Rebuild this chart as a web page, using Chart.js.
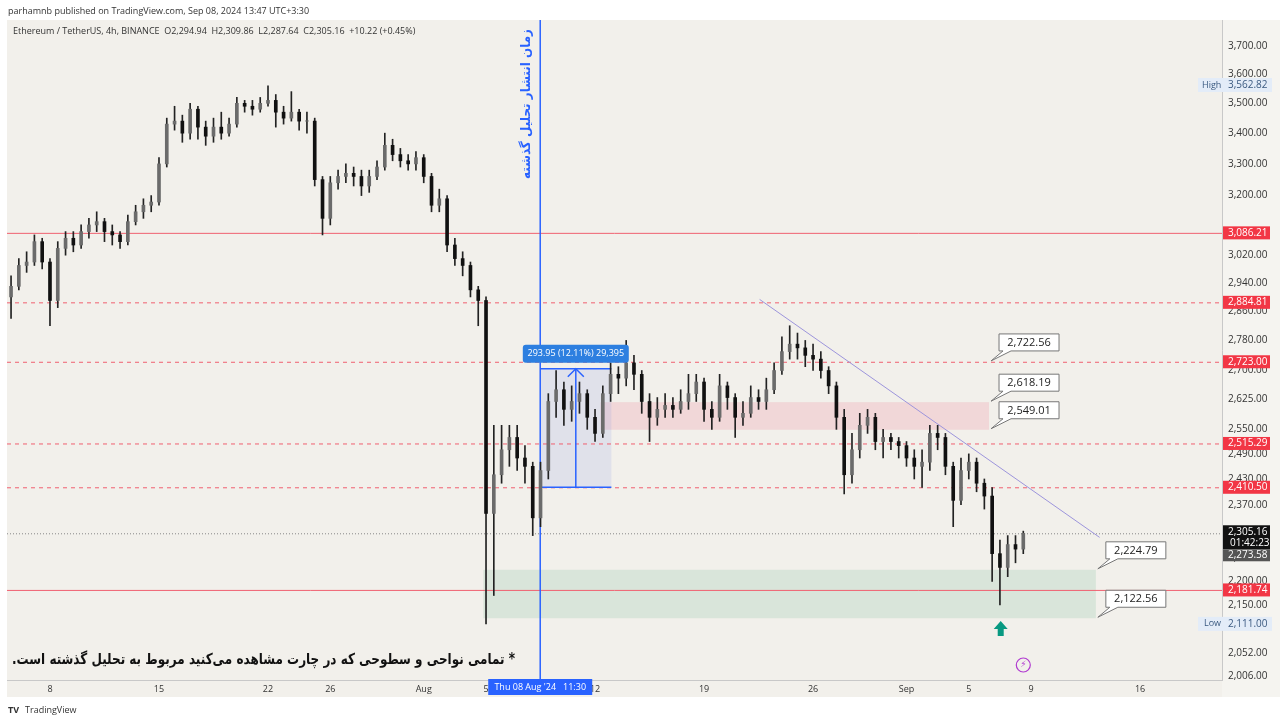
<!DOCTYPE html>
<html><head><meta charset="utf-8">
<script src="https://cdn.jsdelivr.net/npm/chart.js@4.4.1/dist/chart.umd.min.js"></script>
<style>html,body{margin:0;padding:0;background:#fff}canvas{display:block}</style>
</head><body>
<canvas id="c" width="1280" height="723"></canvas>
<script>
// ---- data (12h candles, ETH/USDT, time in days from Jul 0) ----
const firstTime = 5.5, step = 0.5, firstOpen = 2900;
const closes = [2930,2990,3000,3060,3000,2890,3040,3070,3050,3090,3110,3120,3090,3080,3060,3120,3150,3170,3180,3300,
3430,3440,3400,3480,3420,3390,3420,3400,3430,3500,3490,3480,3500,3510,3470,3450,3470,3440,3440,3250,
3130,3240,3260,3270,3260,3230,3260,3290,3360,3330,3310,3300,3320,3260,3170,3190,3050,3010,2990,2920,
2890,2350,2440,2500,2530,2480,2460,2340,2450,2620,2650,2600,2620,2640,2580,2540,2640,2690,2680,2720,
2690,2620,2580,2600,2610,2600,2620,2640,2670,2600,2580,2660,2630,2580,2590,2630,2620,2650,2700,2750,
2770,2760,2740,2730,2700,2660,2580,2440,2500,2560,2580,2520,2530,2520,2510,2480,2460,2470,2540,2530,
2460,2380,2450,2470,2420,2390,2260,2230,2280,2270,2305];
const highs = [2960,3010,3030,3080,3070,3010,3060,3090,3090,3110,3130,3150,3130,3110,3090,3140,3170,3190,3200,3320,
3450,3490,3460,3500,3490,3440,3450,3470,3450,3520,3510,3510,3520,3560,3530,3490,3540,3480,3470,3450,
3260,3260,3280,3300,3290,3280,3280,3310,3400,3380,3350,3330,3340,3330,3270,3220,3200,3070,3030,3000,
2930,2900,2560,2560,2560,2560,2510,2470,2470,2640,2700,2670,2660,2670,2650,2600,2660,2720,2710,2780,
2740,2700,2640,2630,2640,2630,2650,2690,2690,2680,2620,2690,2670,2640,2620,2660,2650,2680,2720,2790,
2820,2800,2780,2770,2750,2710,2670,2600,2540,2590,2600,2590,2550,2540,2530,2520,2500,2500,2560,2560,
2540,2470,2480,2490,2480,2430,2410,2290,2300,2300,2310];
const lows = [2840,2920,2970,2990,2980,2820,2870,3020,3030,3040,3070,3090,3060,3050,3040,3050,3110,3130,3150,3170,
3290,3410,3370,3380,3380,3360,3370,3380,3390,3420,3470,3460,3470,3490,3420,3430,3440,3410,3400,3230,
3080,3110,3220,3240,3230,3200,3210,3250,3280,3310,3290,3280,3280,3240,3150,3150,3030,2990,2960,2900,
2820,2111,2170,2420,2460,2450,2420,2300,2320,2430,2580,2560,2570,2590,2550,2520,2530,2620,2640,2660,
2650,2590,2520,2560,2580,2580,2590,2600,2620,2570,2550,2570,2600,2530,2560,2580,2600,2600,2640,2690,
2730,2730,2710,2700,2680,2640,2550,2395,2420,2480,2540,2500,2480,2500,2480,2460,2430,2410,2450,2500,
2440,2320,2370,2430,2400,2360,2200,2150,2210,2240,2260];
const yTicks = [3700,3600,3500,3400,3300,3200,3020,2940,2860,2780,2700,2625,2550,2490,2430,2370,2250,2200,2150,2052,2006];
const xTickDays = [8,15,22,26,32,36,43,50,57,63,67,71,78];
const xTickLabels = ['8','15','22','26','Aug','5','12','19','26','Sep','5','9','16'];
const solidLevels = [3086.21, 2181.74];
const dashedLevels = [2884.81, 2723.00, 2515.29, 2410.50];
const lastPrice = 2305.16, prevPrice = 2273.58, highPrice = 3562.82, lowPrice = 2111.00;
const pinkZone = [43.35, 68.3, 2549.01, 2618.19];
const greenZone = [35.83, 75.16, 2122.56, 2224.79];
const measureBox = [39.48, 44.05, 2410.5, 2704.45];
const trendLine = [[53.57, 2893], [75.4, 2296]];
const publishTime = 39.48;
const callouts = [[2722.56, 2722.56, 68.3], [2618.19, 2618.19, 68.3], [2549.01, 2549.01, 68.3], [2224.79, 2224.79, 75.16], [2122.56, 2122.56, 75.16]];

// ---- build candles ----
const wick = [], body = [], bodyCol = [];
let prev = firstOpen;
closes.forEach((c, i) => {
  const t = firstTime + i * step;
  wick.push({x: t, y: [lows[i], highs[i]]});
  body.push({x: t, y: [prev, c === prev ? c + 1 : c]});
  bodyCol.push(c >= prev ? '#6b6b6b' : '#111111');
  prev = c;
});

const fmt = v => v.toLocaleString('en-US', {minimumFractionDigits: 2, maximumFractionDigits: 2});

const overlay = {
  id: 'overlay',
  beforeDraw(ch) {
    const g = ch.ctx;
    g.save();
    g.fillStyle = '#ffffff'; g.fillRect(0, 0, 1280, 723);
    g.fillStyle = '#f2f0eb'; g.fillRect(7, 20, 1273, 677);
    g.fillStyle = '#f5f4f0'; g.fillRect(1222, 20, 58, 677);
    g.fillStyle = '#333'; g.font = '9px "Open Sans", sans-serif'; g.textBaseline = 'middle';
    g.fillText('parhamnb published on TradingView.com, Sep 08, 2024 13:47 UTC+3:30', 8, 11);
    g.fillText('Ethereum / TetherUS, 4h, BINANCE  O2,294.94  H2,309.86  L2,287.64  C2,305.16  +10.22 (+0.45%)', 13, 31);
    g.font = 'bold 9px "Open Sans", sans-serif';
    g.fillText('TV', 8, 710);
    g.font = '9px "Open Sans", sans-serif';
    g.fillText('TradingView', 25, 710);
    g.restore();
  },
  beforeDatasetsDraw(ch) {
    const g = ch.ctx, x = ch.scales.x, y = ch.scales.y, a = ch.chartArea;
    const X = v => x.getPixelForValue(v), Y = v => y.getPixelForValue(v);
    g.save();
    g.beginPath(); g.rect(a.left, a.top, a.right - a.left, a.bottom - a.top); g.clip();
    g.fillStyle = 'rgba(242,170,180,0.35)';
    g.fillRect(X(pinkZone[0]), Y(pinkZone[3]), X(pinkZone[1]) - X(pinkZone[0]), Y(pinkZone[2]) - Y(pinkZone[3]));
    g.fillStyle = 'rgba(160,205,180,0.3)';
    g.fillRect(X(greenZone[0]), Y(greenZone[3]), X(greenZone[1]) - X(greenZone[0]), Y(greenZone[2]) - Y(greenZone[3]));
    g.fillStyle = 'rgba(120,140,230,0.15)';
    g.fillRect(X(measureBox[0]), Y(measureBox[3]), X(measureBox[1]) - X(measureBox[0]), Y(measureBox[2]) - Y(measureBox[3]));
    g.strokeStyle = '#f06070'; g.lineWidth = 1;
    solidLevels.forEach(p => { g.beginPath(); g.moveTo(a.left, Y(p) + .5); g.lineTo(a.right, Y(p) + .5); g.stroke(); });
    g.setLineDash([4, 4]);
    dashedLevels.forEach(p => { g.beginPath(); g.moveTo(a.left, Y(p) + .5); g.lineTo(a.right, Y(p) + .5); g.stroke(); });
    g.strokeStyle = '#888'; g.setLineDash([1, 2]);
    g.beginPath(); g.moveTo(a.left, Y(lastPrice) + .5); g.lineTo(a.right, Y(lastPrice) + .5); g.stroke();
    g.setLineDash([]);
    g.strokeStyle = '#2962ff'; g.lineWidth = 1.5;
    const mx0 = X(measureBox[0]), mx1 = X(measureBox[1]), mxc = (mx0 + mx1) / 2;
    [measureBox[2], measureBox[3]].forEach(p => { g.beginPath(); g.moveTo(mx0, Y(p)); g.lineTo(mx1, Y(p)); g.stroke(); });
    g.beginPath(); g.moveTo(mxc, Y(measureBox[2])); g.lineTo(mxc, Y(measureBox[3])); g.stroke();
    g.beginPath(); g.moveTo(mxc - 8, Y(measureBox[3]) + 8); g.lineTo(mxc, Y(measureBox[3])); g.lineTo(mxc + 8, Y(measureBox[3]) + 8); g.stroke();
    g.strokeStyle = '#9d95dc'; g.lineWidth = 1;
    g.beginPath(); g.moveTo(X(trendLine[0][0]), Y(trendLine[0][1])); g.lineTo(X(trendLine[1][0]), Y(trendLine[1][1])); g.stroke();
    g.strokeStyle = '#2962ff'; g.lineWidth = 1.5;
    g.beginPath(); g.moveTo(X(publishTime), 20); g.lineTo(X(publishTime), 697); g.stroke();
    g.restore();
  },
  afterDraw(ch) {
    const g = ch.ctx, x = ch.scales.x, y = ch.scales.y;
    const X = v => x.getPixelForValue(v), Y = v => y.getPixelForValue(v);
    g.save();
    // publish line vertical text
    g.save();
    g.translate(X(publishTime) - 14, 104);
    g.rotate(-Math.PI / 2);
    g.fillStyle = '#2962ff'; g.font = 'bold 13px "DejaVu Sans", sans-serif';
    g.textAlign = 'center'; g.textBaseline = 'middle'; g.direction = 'rtl';
    const vt = 'زمان انتشار تحلیل گذشته';
    const vw = g.measureText(vt).width;
    g.scale(150 / vw, 1);
    g.fillText(vt, 0, 0);
    g.restore();
    // measure label
    const mx0 = X(measureBox[0]), mx1 = X(measureBox[1]), mxc = (mx0 + mx1) / 2;
    g.fillStyle = '#2d7fe0';
    g.beginPath(); g.roundRect(mxc - 53, Y(measureBox[3]) - 24, 106, 18, 3); g.fill();
    g.fillStyle = '#fff'; g.font = '9px "Open Sans", sans-serif'; g.textAlign = 'center'; g.textBaseline = 'middle';
    g.fillText('293.95 (12.11%) 29,395', mxc, Y(measureBox[3]) - 15);
    // callouts
    callouts.forEach(([label, p, t]) => {
      const px = X(t) + 2, py = Y(p);
      const bx = px + 8, by = py - 28;
      g.fillStyle = '#fff'; g.strokeStyle = '#777'; g.lineWidth = 1;
      g.beginPath();
      g.moveTo(bx, by); g.lineTo(bx + 60, by); g.lineTo(bx + 60, by + 17); g.lineTo(bx + 12, by + 17);
      g.lineTo(px, py - 1); g.lineTo(bx + 4, by + 17); g.lineTo(bx, by + 17); g.closePath();
      g.fill(); g.stroke();
      g.fillStyle = '#222'; g.font = '11px "Open Sans", sans-serif'; g.textAlign = 'center';
      g.fillText(fmt(label), bx + 30, by + 9);
    });
    // green arrow
    const ax = X(69.05), ay = 629;
    g.fillStyle = '#089981';
    g.beginPath(); g.moveTo(ax, ay - 8); g.lineTo(ax + 7, ay); g.lineTo(ax + 3, ay); g.lineTo(ax + 3, ay + 7);
    g.lineTo(ax - 3, ay + 7); g.lineTo(ax - 3, ay); g.lineTo(ax - 7, ay); g.closePath(); g.fill();
    // lightning icon
    g.strokeStyle = '#b03ad0'; g.lineWidth = 1.2;
    g.beginPath(); g.arc(X(70.5), 665, 7, 0, Math.PI * 2); g.stroke();
    g.fillStyle = '#b03ad0'; g.font = '9px "DejaVu Sans", sans-serif'; g.textAlign = 'center';
    g.fillText('⚡', X(70.5), 665);
    // persian note
    g.save();
    g.fillStyle = '#111'; g.font = 'bold 15px "DejaVu Sans", sans-serif'; g.direction = 'rtl'; g.textAlign = 'right';
    const nt = '* تمامی نواحی و سطوحی که در چارت مشاهده می‌کنید مربوط به تحلیل گذشته است.';
    const nw = g.measureText(nt).width;
    g.translate(515, 660);
    g.scale(503 / nw, 1);
    g.fillText(nt, 0, 0);
    g.restore();
    // right axis tags
    const tag = (p, text, bg, fg, h) => {
      const ty = Y(p);
      g.fillStyle = bg; g.fillRect(1223, ty - h / 2, 47, h);
      g.fillStyle = fg; g.font = '10px "Open Sans", sans-serif'; g.textAlign = 'left'; g.textBaseline = 'middle';
      g.fillText(text, 1228, ty);
    };
    solidLevels.concat(dashedLevels).forEach(p => tag(p, fmt(p), '#f23645', '#fff', 13));
    const ly = Y(lastPrice);
    g.fillStyle = '#111'; g.fillRect(1223, ly - 8, 47, 24);
    g.fillStyle = '#fff'; g.font = '10px "Open Sans", sans-serif'; g.textAlign = 'left';
    g.fillText(fmt(lastPrice), 1228, ly - 1);
    g.fillText('01:42:23', 1230, ly + 10);
    g.fillStyle = '#555'; g.fillRect(1223, ly + 16, 47, 12);
    g.fillStyle = '#fff'; g.fillText(fmt(prevPrice), 1228, ly + 22);
    [[highPrice, 'High'], [lowPrice, 'Low']].forEach(([p, n]) => {
      const ty = Y(p);
      g.fillStyle = '#e3ecf8'; g.fillRect(1198, ty - 7, 74, 14);
      g.fillStyle = '#3b5a80'; g.font = '9px "Open Sans", sans-serif'; g.textAlign = 'left';
      g.fillText(n, n === 'High' ? 1202 : 1204, ty);
      g.font = '10px "Open Sans", sans-serif'; g.fillText(fmt(p), 1228, ty);
    });
    const dx = X(publishTime);
    g.fillStyle = '#2962ff'; g.fillRect(dx - 52, 679, 104, 16);
    g.fillStyle = '#fff'; g.font = '9px "Open Sans", sans-serif'; g.textAlign = 'center';
    g.fillText("Thu 08 Aug '24   11:30", dx, 687);
    g.restore();
  }
};

new Chart(document.getElementById('c'), {
  type: 'bar',
  data: {
    datasets: [
      {data: body, backgroundColor: bodyCol, barThickness: 3, grouped: false, order: 1},
      {data: wick, backgroundColor: '#222', barThickness: 1, grouped: false, order: 2}
    ]
  },
  options: {
    responsive: false, animation: false, devicePixelRatio: 1,
    layout: {padding: {top: 20, left: 7, right: 0, bottom: 26}},
    plugins: {legend: {display: false}, tooltip: {enabled: false}},
    scales: {
      x: {
        type: 'linear', min: 5.24, max: 83.26, offset: false,
        grid: {display: false, drawTicks: false}, border: {display: true, color: '#c8c8c8'},
        afterBuildTicks: s => { s.ticks = xTickDays.map(v => ({value: v})); },
        afterFit: s => { s.height = 17; },
        ticks: {autoSkip: false, maxRotation: 0, padding: 4, color: '#333', font: {size: 9, family: 'Open Sans'},
          callback: (v) => { const i = xTickDays.indexOf(v); return i >= 0 ? xTickLabels[i] : ''; } }
      },
      y: {
        type: 'logarithmic', position: 'right', min: 1999, max: 3795,
        grid: {display: false, drawTicks: false}, border: {display: true, color: '#c8c8c8'},
        afterBuildTicks: s => { s.ticks = yTicks.map(v => ({value: v})); },
        afterFit: s => { s.width = 58; },
        ticks: {autoSkip: false, padding: 6, color: '#333', font: {size: 10, family: 'Open Sans'}, callback: v => fmt(v)}
      }
    }
  },
  plugins: [overlay]
});
</script>
</body></html>
